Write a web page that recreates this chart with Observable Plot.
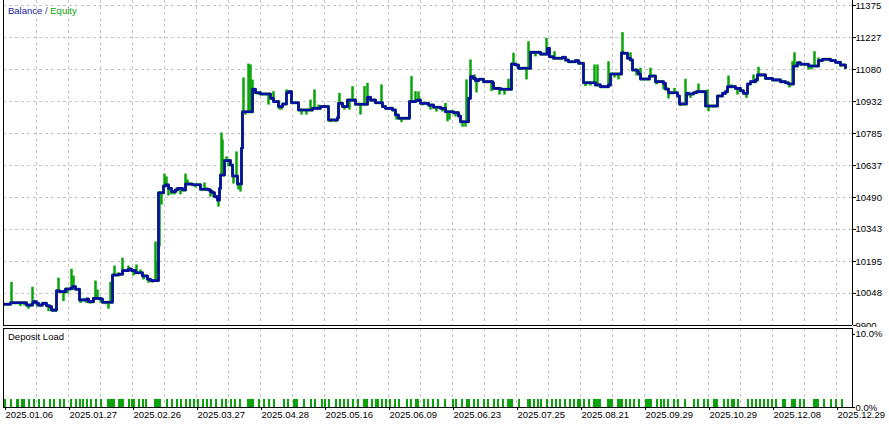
<!DOCTYPE html>
<html><head><meta charset="utf-8">
<script src="https://cdn.jsdelivr.net/npm/d3@7"></script>
<script src="https://cdn.jsdelivr.net/npm/@observablehq/plot@0.6"></script>
<style>
body{margin:0;background:#fff;}
#wrap{position:relative;width:889px;height:424px;overflow:hidden;font-family:"Liberation Sans",Arial,sans-serif;background:#fff;}
#wrap svg{position:absolute;left:0;}
.lbl{position:absolute;font-size:9.5px;line-height:11px;white-space:nowrap;}
</style></head><body><div id="wrap"></div>
<script>
// Balance step values (x = position on the tester's time axis, value in account currency)
const balanceIdx = [4,10,26,32,33,36,38,42,46,49,51,56,59,65,70,72,75,79,86,88,93,100,102,112,118,122,128,131,135,142,147,150,158,163,165,168,171,175,177,182,185,192,200,208,210,212,214,217,219,220,224,230,232,237,241,242,252,255,260,270,273,278,282,286,288,291,298,312,320,328,337,338,342,347,355,367,370,375,382,385,392,395,398,409,415,417,420,428,433,440,445,453,458,460,468,470,473,475,478,483,492,493,500,511,515,518,530,540,547,549,553,562,565,568,575,578,583,595,600,608,610,621,623,627,630,632,637,638,640,649,655,663,665,668,677,679,686,688,693,696,705,717,722,725,727,735,740,743,747,750,755,757,765,772,780,785,788,793,797,800,808,818,822,830,835,840,845];
const balanceVal = [9998,10005,9994,10004,10010,10002,9994,10002,9991,9987,9971,10060,10056,10068,10071,10079,10067,10018,10022,10010,10025,10022,10007,10133,10136,10153,10160,10153,10143,10128,10113,10107,10512,10543,10548,10532,10517,10525,10532,10525,10552,10549,10528,10525,10517,10512,10494,10478,10532,10594,10660,10640,10589,10552,10718,10885,10989,10973,10967,10947,10932,10909,10921,10973,10978,10927,10893,10901,10909,10847,10858,10924,10909,10939,10920,10952,10939,10927,10909,10901,10893,10870,10855,10932,10936,10939,10924,10916,10906,10901,10885,10881,10866,10839,10947,11047,11039,11028,11035,11024,11019,10993,10989,11105,11101,11086,11159,11151,11178,11139,11132,11136,11124,11116,11121,11109,11019,11009,11001,11009,11059,11157,11155,11132,11124,11078,11070,11059,11036,11050,11024,11016,10990,10973,10958,10921,10970,10967,10973,10978,10912,10958,10970,10978,11001,10993,10982,10970,11013,11024,11032,11055,11039,11032,11024,11019,11013,11096,11111,11104,11096,11121,11127,11121,11113,11101,11088];

// Equity excursions (floating profit/loss extremes)
const spikeIdx = [11,20,24,28,32,37,41,48,53,55,58,63,67,71,73,80,86,90,95,97,100,105,108,110,114,118,122,125,128,133,136,140,143,148,152,155,156,159,161,164,166,168,171,174,180,185,187,195,204,206,210,213,218,221,222,226,228,233,236,238,240,243,245,248,250,252,254,258,268,273,279,281,286,301,306,310,314,318,330,335,339,344,349,352,360,364,367,374,381,396,401,411,415,418,422,430,436,442,445,447,449,455,462,465,466,470,474,476,491,499,504,508,513,520,526,528,535,546,549,554,565,585,590,594,597,604,608,614,618,622,626,630,636,640,650,656,663,668,674,680,685,690,698,707,708,713,728,731,737,746,753,758,763,789,792,794,798,808,811,814,818,830,840];
const spikeVal = [10099,9987,9990,9975,10076,9985,9985,9964,9961,9961,10118,10010,10045,10159,10128,10002,10002,9999,10105,10064,10004,9996,9975,10099,10174,10143,10210,10147,10174,10128,10179,10156,10110,10095,10095,10285,10193,10262,10455,10598,10585,10497,10502,10502,10502,10598,10571,10534,10557,10534,10492,10488,10446,10787,10755,10677,10631,10552,10700,10525,10515,11041,10870,11105,11101,11031,10986,10962,10916,10978,10893,10893,10986,10870,10870,10939,10986,10916,10835,10835,10970,10893,10893,11001,10870,11001,11016,10926,11009,10847,10835,11047,10978,10976,10912,10893,10884,10884,10924,10839,10847,10861,10814,10814,11032,11124,11055,10972,10978,10962,10962,11035,11155,11078,11032,11208,11138,11224,11161,11162,11115,11001,11004,11101,11101,10995,11116,11041,11032,11250,11147,11157,11050,11086,11086,11009,10986,10944,10993,10909,11035,10947,11013,10986,10885,10903,11050,11009,10962,10947,11055,11090,11055,10995,11116,11157,11115,11078,11078,11162,11133,11115,11091];

// Deposit load periods [from, to] on the same axis, and their load (%)
const loadSpans = [[4,6],[10,12],[16,19],[21,25],[28,30],[33,35],[38,40],[43,45],[49,51],[53,55],[59,61],[63,65],[70,72],[75,77],[79,81],[82,84],[86,88],[90,92],[95,97],[100,102],[107,115],[118,124],[128,130],[131,133],[133,135],[138,140],[142,144],[145,147],[154,161],[166,168],[171,173],[176,178],[180,182],[185,187],[189,191],[193,195],[197,199],[202,204],[206,208],[210,212],[215,217],[221,223],[225,227],[230,232],[234,236],[239,241],[247,254],[258,260],[263,265],[268,270],[273,275],[283,285],[287,289],[293,298],[303,305],[310,312],[314,316],[321,323],[324,326],[328,330],[335,337],[339,341],[343,345],[347,349],[352,354],[357,359],[363,368],[371,373],[375,377],[377,379],[381,383],[385,387],[389,391],[394,396],[398,400],[406,408],[410,412],[415,417],[417,419],[423,425],[427,429],[432,434],[437,439],[444,446],[452,454],[455,457],[461,463],[466,470],[473,475],[477,479],[483,485],[487,489],[493,495],[497,499],[502,504],[507,513],[518,520],[527,531],[533,535],[537,539],[540,542],[546,548],[551,553],[555,557],[559,561],[564,566],[569,571],[573,575],[577,579],[579,581],[583,585],[588,590],[593,601],[607,613],[617,623],[625,627],[629,631],[633,635],[638,640],[645,652],[656,658],[660,662],[663,665],[667,669],[673,675],[677,679],[684,686],[693,695],[697,699],[703,705],[707,709],[713,718],[723,725],[727,729],[731,733],[733,735],[737,739],[747,749],[751,753],[755,757],[759,761],[763,765],[767,769],[771,773],[775,777],[782,784],[784,786],[791,796],[799,801],[803,805],[813,819],[823,825],[830,832],[835,837],[841,843]];
const depositLoadPct = 1.1;

// Axis ticks
const yTicks = [9900,10048,10195,10343,10490,10637,10785,10932,11080,11227,11375];
const loadTicks = [0,10];
const dateTickIdx = [4,68,132,196,260,324,388,452,516,580,644,708,772,836];
const dateLabels = ["2025.01.06","2025.01.27","2025.02.26","2025.03.27","2025.04.28","2025.05.16","2025.06.09","2025.06.23","2025.07.25","2025.08.21","2025.09.29","2025.10.29","2025.12.08","2025.12.29"];

const FONT = '"Liberation Sans", Arial, sans-serif';
const GREEN = "#0aa40a", BLUE = "#0c0ca4", GRID = "#c4c4c4";
const balData = balanceIdx.map((x, i) => ({x, v: balanceVal[i]}));
const balanceAt = x => balanceVal[Math.max(0, d3.bisectRight(balanceIdx, x) - 1)];
const spikeData = spikeIdx.map((x, i) => ({x, v: spikeVal[i], b: balanceAt(x)}));
const loadData = loadSpans.map(([a, b]) => ({a, b, p: depositLoadPct}));
const gridX = dateTickIdx.flatMap((d, i) => i === 0 ? [d + 32] : [d, d + 32]).filter(d => d < 852);
const labelOf = new Map(dateTickIdx.map((d, i) => [d, dateLabels[i]]));
const xDomain = [3, 852];

const topPlot = Plot.plot({
  width: 889, height: 327,
  marginLeft: 3, marginRight: 37, marginTop: 5, marginBottom: 2,
  x: {domain: xDomain, axis: null},
  y: {domain: [9900, 11375], axis: null},
  style: {fontFamily: FONT, fontSize: "9.5px", color: "#000", background: "#fff"},
  marks: [
    Plot.ruleY(yTicks.slice(1), {stroke: GRID, strokeDasharray: "3,3"}),
    Plot.ruleX(gridX, {stroke: GRID, strokeDasharray: "3,3", insetTop: -5}),
    Plot.line(balData, {x: "x", y: "v", curve: "step-after", stroke: GREEN, strokeWidth: 3}),
    Plot.ruleX(spikeData, {x: "x", y1: "b", y2: "v", stroke: GREEN, strokeWidth: 2.5}),
    Plot.line(balData, {x: "x", y: "v", curve: "step-after", stroke: BLUE, strokeWidth: 2.6}),
    Plot.ruleX(xDomain, {stroke: "#000", insetTop: -5}),
    Plot.ruleY([9900], {stroke: "#000"}),
    Plot.axisY(yTicks, {anchor: "right", tickSize: 3, tickPadding: 0, label: null, tickFormat: d => String(d), fill: "#000"})
  ]
});
topPlot.style.top = "0px";

const bottomPlot = Plot.plot({
  width: 889, height: 97,
  marginLeft: 3, marginRight: 37, marginTop: 1, marginBottom: 17,
  x: {domain: xDomain, axis: null},
  y: {domain: [0, 10.8], axis: null},
  style: {fontFamily: FONT, fontSize: "9.5px", color: "#000", background: "#fff"},
  marks: [
    Plot.ruleX(gridX, {stroke: GRID, strokeDasharray: "3,3"}),
    Plot.rect(loadData, {x1: "a", x2: "b", y1: 0, y2: "p", fill: GREEN}),
    Plot.frame({stroke: "#000"}),
    Plot.axisY(loadTicks, {anchor: "right", tickSize: 2, tickPadding: 1, label: null, tickFormat: d => d.toFixed(1) + "%", fill: "#000"}),
    Plot.axisX(dateTickIdx, {anchor: "bottom", tickSize: 3, tickPadding: 1, label: null, tickFormat: d => labelOf.get(d), textAnchor: "start", dx: 1, fill: "#000"})
  ]
});
bottomPlot.style.top = "327px";

const wrap = document.getElementById("wrap");
wrap.append(topPlot, bottomPlot);

const title = document.createElement("div");
title.className = "lbl";
title.style.left = "8px"; title.style.top = "5px";
title.innerHTML = '<span style="color:#1a1a9c">Balance</span><span style="color:#3a3ab0"> / </span><span style="color:#0aa40a">Equity</span>';
wrap.append(title);

const dl = document.createElement("div");
dl.className = "lbl";
dl.style.left = "8px"; dl.style.top = "331px"; dl.style.color = "#000";
dl.textContent = "Deposit Load";
wrap.append(dl);
</script></body></html>
